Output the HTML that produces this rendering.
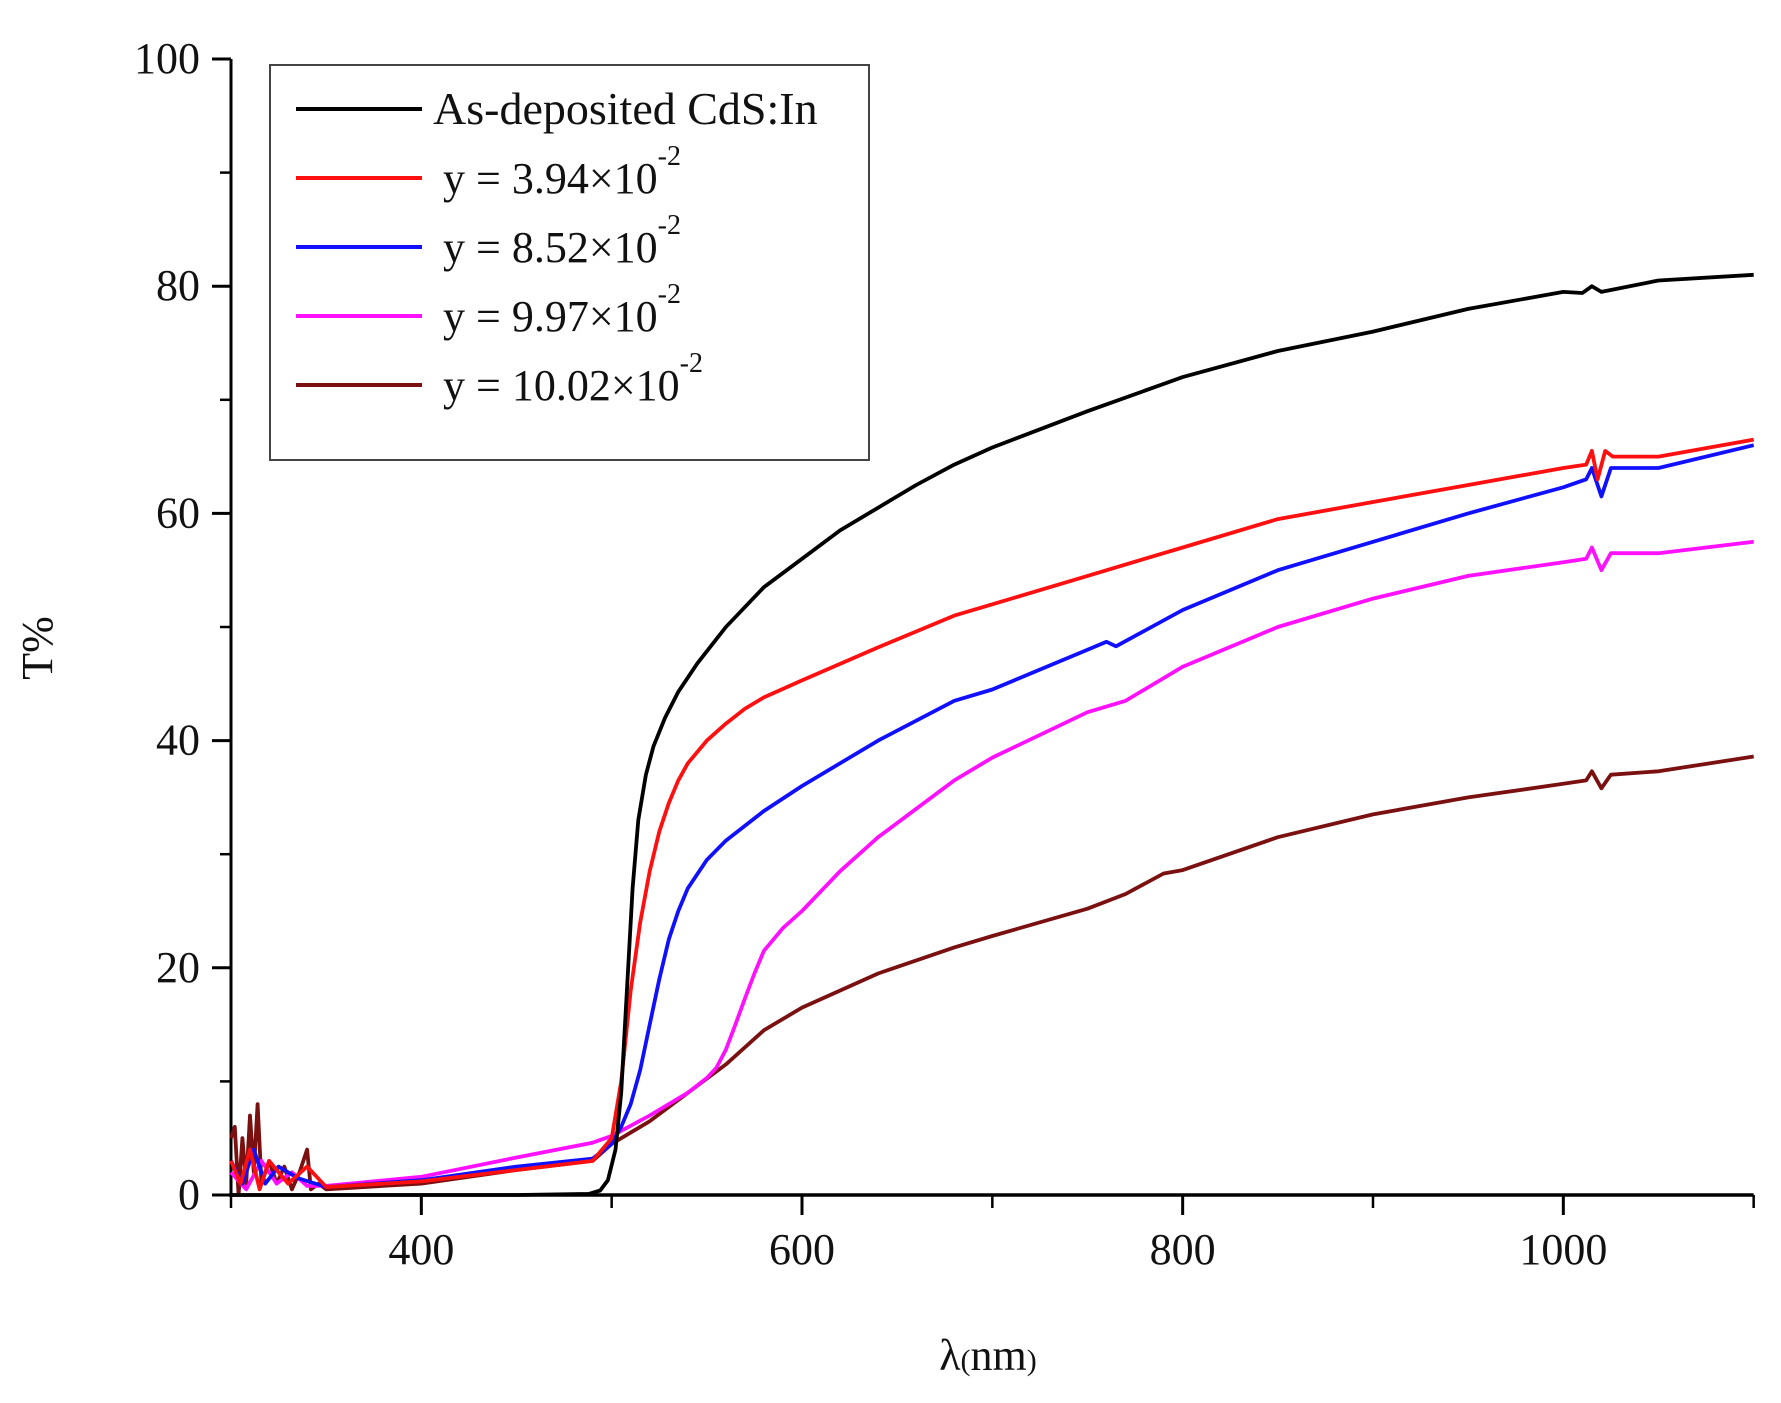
<!DOCTYPE html>
<html><head><meta charset="utf-8"><style>
html,body{margin:0;padding:0;background:#fff;}
svg text{font-family:"Liberation Serif",serif;fill:#111;}
</style></head><body>
<svg id="chart" width="1781" height="1398" viewBox="0 0 1781 1398" xmlns="http://www.w3.org/2000/svg">
<g id="axes"></g>
<g id="series"></g>
<g id="legend">
<rect x="270" y="65" width="599" height="395" fill="#fff" stroke="#444" stroke-width="2"/>
</g>
<text transform="translate(52,648) rotate(-90)" text-anchor="middle" font-size="44">T%</text>
<text x="988" y="1370" text-anchor="middle" font-size="44">λ<tspan font-size="30">(</tspan>nm<tspan font-size="30">)</tspan></text>
</svg>
<script>
const xTicks=[400,600,800,1000];
const xMinor=[300,500,700,900,1100];
const yTicks=[0,20,40,60,80,100];
const yMinor=[10,30,50,70,90];
const blackX=[300,350,400,450,488,494,498,502,505,508,511,514,518,522,528,535,545,560,580,600,620,640,660,680,700,750,800,850,900,950,1000,1010,1015,1020,1050,1100];
const blackY=[0,0,0,0,0.1,0.4,1.3,4,9,18,27,33,37,39.5,42,44.3,46.8,50,53.5,56,58.5,60.5,62.5,64.3,65.8,69,72,74.3,76,78,79.5,79.4,80,79.5,80.5,81];
const redX=[300,305,310,315,320,330,340,350,400,450,490,500,505,510,515,520,525,530,535,540,550,560,570,580,600,640,680,700,750,780,800,850,900,950,1000,1012,1015,1018,1022,1026,1050,1100];
const redY=[3,1,4,0.5,3,1,2.5,0.7,1.2,2.2,3,5,10,18,24,28.5,32,34.5,36.5,38,40,41.5,42.8,43.8,45.3,48.2,51,52,54.5,56,57,59.5,61,62.5,64,64.3,65.5,63,65.5,65,65,66.5];
const blueX=[300,306,312,318,325,335,350,400,450,490,500,505,510,515,520,525,530,535,540,550,560,580,600,640,680,700,750,760,765,800,850,900,950,1000,1012,1015,1020,1025,1050,1100];
const blueY=[3,1,4,1,2.5,1.5,0.7,1.3,2.5,3.2,4.5,6,8,11,15,19,22.5,25,27,29.5,31.2,33.8,36,40,43.5,44.5,48,48.7,48.3,51.5,55,57.5,60,62.3,63,64,61.5,64,64,66];
const magX=[300,308,316,324,332,340,350,400,450,490,500,520,540,550,555,560,565,570,575,580,590,600,620,640,660,680,700,750,770,800,850,900,950,1000,1012,1015,1020,1025,1050,1100];
const magY=[2,0.5,3,1,2,0.8,0.8,1.6,3.3,4.6,5.2,7,9,10.3,11.2,12.8,15,17.3,19.5,21.5,23.5,25,28.5,31.5,34,36.5,38.5,42.5,43.5,46.5,50,52.5,54.5,55.7,56,57,55,56.5,56.5,57.5];
const brownX=[300,302,304,306,308,310,312,314,316,320,324,328,332,336,340,342,346,350,400,450,490,500,520,540,560,580,600,640,680,700,750,770,790,800,850,900,950,1000,1012,1015,1020,1025,1050,1100];
const brownY=[5,6,0,5,1,7,2,8,1,3,1,2.5,0.5,2,4,0.5,1,0.5,1,2.2,3,4.5,6.5,9,11.5,14.5,16.5,19.5,21.8,22.8,25.2,26.5,28.3,28.6,31.5,33.5,35,36.2,36.5,37.3,35.8,37,37.3,38.6];
const legendLabels=["As-deposited CdS:In","y = 3.94×10","y = 8.52×10","y = 9.97×10","y = 10.02×10"];
const colors=["#000000","#ff1010","#1010ff","#ff10ff","#7a1010"];
const NS="http://www.w3.org/2000/svg";
function sx(v){return 231+(v-300)*(1142/600);}
function sy(v){return 1195-v*11.36;}
function el(tag,attrs,parent){const e=document.createElementNS(NS,tag);for(const k in attrs)e.setAttribute(k,attrs[k]);parent.appendChild(e);return e;}
const axes=document.getElementById('axes');
let a=el('line',{x1:231,y1:sy(100),x2:231,y2:1197,stroke:'#000','stroke-width':3},axes);


a=el('line',{x1:229,y1:1195,x2:sx(1100),y2:1195,stroke:'#000','stroke-width':3.5},axes);


xTicks.forEach(v=>{
 let t=el('line',{x1:sx(v),y1:1195,x2:sx(v),y2:1215,stroke:'#000','stroke-width':3},axes);
 
 
 let l=el('text',{x:sx(v),y:1264,'text-anchor':'middle','font-size':44},axes);l.textContent=v;
 
 
});
xMinor.forEach(v=>{
 let t=el('line',{x1:sx(v),y1:1195,x2:sx(v),y2:1208,stroke:'#000','stroke-width':2.5},axes);
 
 
});
yTicks.forEach(v=>{
 let t=el('line',{x1:212,y1:sy(v),x2:231,y2:sy(v),stroke:'#000','stroke-width':3},axes);
 
 
 let l=el('text',{x:200,y:sy(v)+14,'text-anchor':'end','font-size':44},axes);l.textContent=v;
 
 
});
yMinor.forEach(v=>{
 let t=el('line',{x1:220,y1:sy(v),x2:231,y2:sy(v),stroke:'#000','stroke-width':2.5},axes);
 
 
});
const series=[[brownX,brownY,4,'series-10-02'],[magX,magY,3,'series-9-97'],[blueX,blueY,2,'series-8-52'],[redX,redY,1,'series-3-94'],[blackX,blackY,0,'series-as-deposited']];
const sg=document.getElementById('series');
series.forEach(s=>{
 const d=s[0].map((x,i)=>(i?'L':'M')+sx(x).toFixed(1)+','+sy(s[1][i]).toFixed(1)).join(' ');
 const p=el('path',{d:d,fill:'none',stroke:colors[s[2]],'stroke-width':3.8,'stroke-linejoin':'round'},sg);
 
 
});
const lg=document.getElementById('legend');
legendLabels.forEach((lab,i)=>{
 const y=109+i*69;
 const ln=el('line',{x1:296,y1:y,x2:422,y2:y,stroke:colors[i],'stroke-width':4},lg);
 
 
 const t=el('text',{x:i==0?433:443,y:y+15,'font-size':i==0?46:44},lg);
 
 
 t.textContent=lab;
 if(i>0){const ts=el('tspan',{dy:-28,'font-size':28},t);ts.textContent='-2';}
});
</script>
</body></html>
